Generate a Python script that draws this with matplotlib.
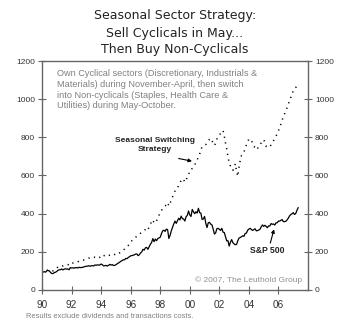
import numpy as np
import matplotlib
matplotlib.use("Agg")
import matplotlib.pyplot as plt

# monthly index levels, Jan 1990 .. May 2007
sp500 = [
    93, 94, 96, 93, 102, 101, 100, 91, 86, 86, 91, 93,
    97, 103, 106, 106, 110, 105, 109, 111, 109, 110, 106, 117,
    115, 116, 114, 117, 117, 115, 119, 117, 118, 118, 121, 123,
    124, 125, 127, 124, 127, 127, 126, 131, 129, 132, 130, 131,
    136, 132, 126, 127, 129, 125, 129, 134, 130, 133, 128, 129,
    132, 137, 141, 145, 150, 154, 158, 158, 165, 164, 170, 174,
    179, 180, 182, 184, 188, 189, 180, 184, 194, 199, 213, 209,
    221, 223, 213, 226, 239, 249, 269, 253, 267, 258, 269, 273,
    276, 295, 310, 313, 307, 319, 316, 270, 286, 310, 328, 346,
    361, 349, 362, 376, 367, 387, 374, 372, 361, 384, 391, 414,
    393, 385, 422, 409, 400, 410, 403, 428, 405, 403, 370, 372,
    385, 349, 327, 352, 354, 345, 341, 319, 293, 299, 321, 323,
    318, 312, 323, 303, 301, 279, 257, 258, 230, 250, 264, 248,
    241, 237, 239, 258, 272, 275, 279, 284, 281, 296, 298, 313,
    319, 323, 317, 312, 316, 321, 310, 311, 314, 318, 331, 341,
    333, 339, 333, 326, 336, 335, 348, 344, 346, 340, 352, 352,
    361, 361, 365, 369, 358, 358, 360, 367, 376, 388, 395, 399,
    405, 396, 400, 417, 431,
]

strategy = [
    93, 95, 98, 96, 103, 104, 106, 101, 99, 100, 104, 108,
    115, 121, 124, 125, 128, 126, 130, 132, 131, 133, 130, 139,
    138, 141, 140, 144, 146, 147, 151, 150, 152, 154, 157, 159,
    162, 163, 167, 165, 168, 170, 169, 172, 171, 168, 166, 172,
    180, 184, 179, 181, 180, 176, 178, 183, 185, 188, 184, 186,
    184, 183, 187, 194, 200, 206, 210, 214, 222, 228, 233, 240,
    252, 258, 262, 268, 275, 283, 288, 292, 297, 300, 306, 310,
    318, 324, 316, 330, 345, 358, 368, 350, 360, 362, 380, 392,
    405, 415, 428, 436, 440, 450, 458, 440, 455, 470, 488, 505,
    518, 522, 535, 548, 560, 574, 583, 578, 565, 575, 592, 610,
    612, 620, 640, 650, 658, 665, 680, 700, 712, 735, 750, 757,
    760, 762, 770, 778, 790, 795, 782, 768, 757, 770, 790, 805,
    812, 820, 830, 836, 808, 770, 740, 700, 665, 650, 640, 627,
    640, 662, 620, 595, 644, 680, 705, 712, 722, 745, 760, 775,
    792, 790, 783, 770, 752, 748, 735, 740, 757, 765, 770, 783,
    787, 775, 752, 755, 757, 752, 760, 770, 783, 795, 805, 820,
    836, 850, 870, 890, 910, 923, 940, 955, 975, 990, 1009, 1023,
    1044, 1048, 1060, 1072, 1076,
]

x_ticks = list(range(1990, 2008, 2))
x_labels = ["90", "92", "94", "96", "98", "00", "02", "04", "06"]
y_ticks = [0, 200, 400, 600, 800, 1000, 1200]

months = 1990 + np.arange(len(sp500)) / 12.0

fig = plt.figure(figsize=(3.5, 3.28), dpi=100)
ax = fig.add_axes([0.12, 0.116, 0.76, 0.698])

ax.plot(months, sp500, color="black", lw=0.9)
ax.plot(months, strategy, color="black", lw=1.1, linestyle=(0, (0.8, 3.0)))

ax.set_xlim(1990, 2008)
ax.set_ylim(0, 1200)
ax.set_xticks(x_ticks)
ax.set_xticklabels(x_labels)
ax.set_yticks(y_ticks)

for s in ax.spines.values():
    s.set_color("#666666")
    s.set_linewidth(1.0)

ax.tick_params(axis="y", direction="inout", length=6, width=0.8,
               color="#666666", labelsize=6, labelcolor="#333333",
               left=True, right=True, labelleft=True, labelright=True, pad=2)
ax.tick_params(axis="x", direction="inout", length=6, width=0.8,
               color="#666666", labelsize=7.2, labelcolor="#333333", pad=4)
for lab in ax.get_xticklabels() + ax.get_yticklabels():
    lab.set_family("Liberation Sans")

# title
title_lines = ["Seasonal Sector Strategy:", "Sell Cyclicals in May...",
               "Then Buy Non-Cyclicals"]
for i, t in enumerate(title_lines):
    fig.text(0.5, 1 - (16 + 17 * i) / 328, t, ha="center", va="center",
             fontsize=9, color="#222222", family="DejaVu Sans")

note = ("Own Cyclical sectors (Discretionary, Industrials &\n"
        "Materials) during November-April, then switch\n"
        "into Non-cyclicals (Staples, Health Care &\n"
        "Utilities) during May-October.")
fig.text(57 / 350, 1 - 69.5 / 328, note, ha="left", va="top", fontsize=6.6,
         color="#808080", family="Liberation Sans", linespacing=1.22)

ax.text(1997.66, 760, "Seasonal Switching\nStrategy", ha="center",
        va="center", fontsize=6, fontweight="bold", color="#222222",
        family="Liberation Sans", linespacing=1.45)
ax.annotate("", xy=(2000.15, 675), xytext=(1999.25, 689),
            arrowprops=dict(arrowstyle="-|>", color="black", lw=0.8,
                            mutation_scale=5, shrinkA=0, shrinkB=0))

ax.text(2005.26, 209, "S&P 500", ha="center", va="center", fontsize=6.2,
        fontweight="bold", color="#222222", family="Liberation Sans")
ax.annotate("", xy=(2005.7, 318), xytext=(2005.45, 246),
            arrowprops=dict(arrowstyle="-|>", color="black", lw=0.8,
                            mutation_scale=5, shrinkA=0, shrinkB=0))

ax.text(2007.6, 50, "\u00a9 2007, The Leuthold Group", ha="right",
        va="center", fontsize=6, color="#909090", family="Liberation Sans")

fig.text(26 / 350, 1 - 316 / 328,
         "Results exclude dividends and transactions costs.",
         ha="left", va="center", fontsize=5.4, color="#808080",
         family="Liberation Sans")

fig.savefig("out.png", dpi=100)
